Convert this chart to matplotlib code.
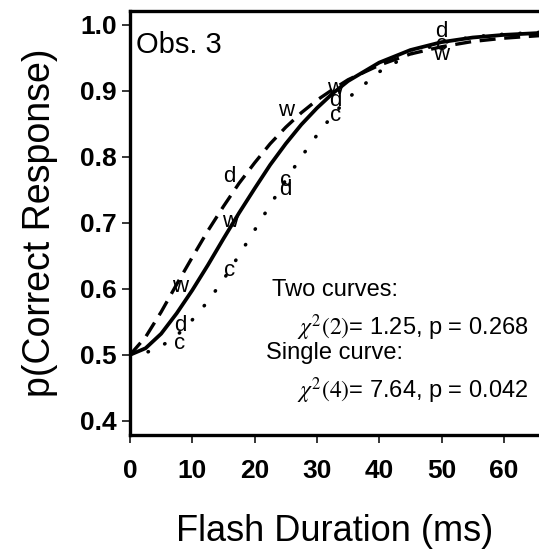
import matplotlib
matplotlib.use("Agg")
import matplotlib.pyplot as plt

plt.rcParams['font.family'] = ['Liberation Sans', 'DejaVu Sans']
plt.rcParams['mathtext.fontset'] = 'stix'

# ---- data ----
durations = [8, 16, 25, 33, 50]
c_vals = [0.517, 0.628, 0.765, 0.863, 0.970]
d_vals = [0.545, 0.770, 0.750, 0.886, 0.990]
w_vals = [0.603, 0.702, 0.871, 0.904, 0.955]

curve_x = [0, 2.5, 5, 7.5, 10, 12.5, 15, 17.5, 20, 22.5, 25, 27.5, 30, 32.5, 35,
           40, 45, 50, 55, 60, 66]
solid_y = [0.500, 0.510, 0.532, 0.563, 0.598, 0.636, 0.676, 0.715, 0.752, 0.788,
           0.820, 0.849, 0.874, 0.896, 0.915, 0.943, 0.962, 0.974, 0.981, 0.985, 0.988]
dashed_y = [0.500, 0.527, 0.565, 0.607, 0.648, 0.688, 0.725, 0.760, 0.791, 0.820,
            0.845, 0.867, 0.886, 0.902, 0.917, 0.939, 0.956, 0.967, 0.975, 0.980, 0.984]
dotted_y = [0.500, 0.503, 0.513, 0.529, 0.553, 0.581, 0.614, 0.651, 0.689, 0.727,
            0.765, 0.800, 0.833, 0.863, 0.889, 0.929, 0.956, 0.973, 0.982, 0.986, 0.989]

x_ticks = [0, 10, 20, 30, 40, 50, 60]
y_ticks = [0.4, 0.5, 0.6, 0.7, 0.8, 0.9, 1.0]
y_tick_labels = ['0.4', '0.5', '0.6', '0.7', '0.8', '0.9', '1.0']

fig = plt.figure(figsize=(5.39, 5.57), dpi=100)
ax = fig.add_axes([130/539, 1-435/557, (539-130)/539, (435-11)/557])

ax.plot(curve_x, dotted_y, color='black', lw=2.6,
        linestyle=(0, (0.1, 5.0)), dash_capstyle='round')
ax.plot(curve_x, dashed_y, color='black', lw=2.4,
        linestyle=(0, (4.8, 2.6)))
ax.plot(curve_x, solid_y, color='black', lw=2.7)

for xs, ys, lab in [(durations, c_vals, 'c'), (durations, d_vals, 'd'), (durations, w_vals, 'w')]:
    for xv, yv in zip(xs, ys):
        ax.text(xv, yv, lab, ha='center', va='center', fontsize=16)

ax.text(1.0, 0.970, 'Obs. 3', ha='left', va='center', fontsize=21)
ax.text(22.8, 0.598, 'Two curves:', ha='left', va='center', fontsize=17)
ax.text(63.9, 0.541, r'$\chi^{2}(2)$= 1.25, p = 0.268', ha='right', va='center', fontsize=17)
ax.text(21.8, 0.503, 'Single curve:', ha='left', va='center', fontsize=17)
ax.text(63.9, 0.446, r'$\chi^{2}(4)$= 7.64, p = 0.042', ha='right', va='center', fontsize=17)

ax.set_xlim(0, 65.65)
ax.set_ylim(0.3785, 1.0212)
ax.set_xticks(x_ticks)
ax.set_xticklabels([str(t) for t in x_ticks], fontweight='bold', fontsize=19)
ax.set_yticks(y_ticks)
ax.set_yticklabels(y_tick_labels, fontweight='bold', fontsize=19)
ax.tick_params(axis='both', direction='out', length=5.5, width=1.1, colors='black')
ax.tick_params(axis='x', pad=12)
ax.tick_params(axis='y', pad=4)

for s in ['left', 'top', 'bottom']:
    ax.spines[s].set_linewidth(2.4)
ax.spines['right'].set_visible(False)

ax.set_xlabel('Flash Duration (ms)', fontsize=26, labelpad=22)
ax.set_ylabel('p(Correct Response)', fontsize=27, labelpad=16)

fig.savefig('out.png', dpi=100)
